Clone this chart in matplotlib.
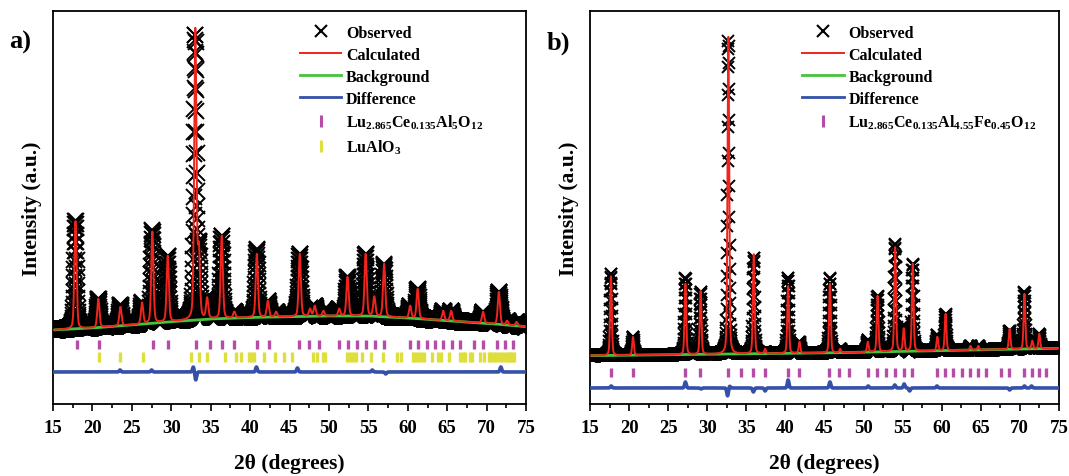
import numpy as np
import matplotlib.pyplot as plt
from matplotlib.lines import Line2D

plt.rcParams['font.family'] = 'Liberation Serif'
plt.rcParams['font.weight'] = 'bold'
plt.rcParams['mathtext.fontset'] = 'custom'
plt.rcParams['mathtext.rm'] = 'Liberation Serif:bold'
plt.rcParams['mathtext.it'] = 'Liberation Serif:bold'
plt.rcParams['mathtext.bf'] = 'Liberation Serif:bold'

# ---- panel a: Lu2.865Ce0.135Al5O12 + LuAlO3 ----
a_peak_pos = [17.85, 20.75, 23.55, 26.3, 27.6, 29.55, 33.05, 33.5, 34.55, 36.4, 38.0,
              40.85, 42.25, 43.3, 46.3, 47.6, 48.2, 49.3, 51.3, 52.35, 54.65, 55.75,
              57.0, 60.3, 61.25, 64.5, 65.5, 69.55, 71.55, 72.6, 73.8]
a_peak_top = [183, 105, 97, 101, 172, 148, 374, 150, 105, 168, 92,
              150, 103, 92, 150, 95, 98, 93, 95, 127, 150, 107,
              140, 98, 115, 93, 93, 92, 112, 83, 82]
a_bg_x = [15, 20, 25, 30, 35, 40, 45, 50, 55, 60, 65, 70, 75]
a_bg_y = [74, 76, 79, 82.3, 85, 86.5, 87.3, 88, 88, 86, 83.3, 80.7, 77.3]
a_diff_pos = [23.5, 27.5, 32.8, 33.1, 40.8, 46.0, 55.5, 57.2, 71.8]
a_diff_amp = [2, 2, 5, -8, 5, 4, 2, -2, 5]
a_hkl_garnet = [18.02, 20.77, 27.65, 29.61, 33.18, 34.87, 36.49, 37.97, 40.86, 42.35,
                46.25, 47.52, 48.80, 51.30, 52.40, 53.58, 54.75, 55.80, 56.95, 60.26,
                61.32, 62.39, 63.45, 64.52, 65.55, 66.60, 68.40, 69.50, 71.30, 72.35, 73.40]
a_hkl_lualo3 = [20.77, 23.54, 26.38, 32.45, 33.51, 34.58, 36.82, 38.18, 38.82, 39.88,
                40.10, 40.52, 41.79, 43.15, 44.34, 45.32, 48.03, 48.46, 49.23, 49.56,
                52.28, 52.62, 53.05, 53.38, 54.24, 55.38, 56.87, 58.57, 59.20, 60.61,
                60.90, 61.24, 61.62, 62.05, 63.03, 63.88, 64.21, 65.23, 66.63, 66.97,
                67.27, 67.83, 68.12, 69.10, 69.69, 70.25, 70.54, 70.88, 71.22, 71.52,
                71.94, 72.37, 72.67, 72.92, 73.22, 73.50]

# ---- panel b: Lu2.865Ce0.135Al4.55Fe0.45O12 ----
b_peak_pos = [17.67, 20.5, 27.2, 29.15, 32.7, 35.95, 37.4, 40.35, 41.8, 45.7, 47.0,
              50.55, 51.8, 54.05, 55.15, 56.3, 59.45, 60.5, 63.7, 64.7, 67.6, 68.7,
              70.6, 71.6, 72.5]
b_peak_top = [128, 67, 120, 113, 367, 150, 55, 118, 62, 120, 55,
              62, 108, 157, 75, 140, 67, 90, 58, 58, 55, 75,
              110, 63, 70]
b_bg_x = [15, 45, 75]
b_bg_y = [48.3, 51, 55.7]
b_diff_pos = [17.7, 27.2, 29.2, 32.6, 32.85, 35.9, 37.4, 40.35, 45.7, 50.6, 54.0,
              55.2, 55.9, 59.4, 68.7, 70.6, 71.5]
b_diff_amp = [2, 6, -1, -8, 2, -4, -3, 8, 6, 2, 3, 4, -3, 2, -2, 2, 2]
b_hkl_garnet = [17.67, 20.50, 27.17, 29.11, 32.67, 34.28, 35.89, 37.37, 40.30, 41.70,
                45.64, 46.91, 48.14, 50.51, 51.74, 52.92, 53.99, 55.13, 56.23, 59.40,
                60.47, 61.49, 62.58, 63.65, 64.67, 65.63, 67.54, 68.61, 70.51, 71.57,
                72.42, 73.39]


def profile(x, pos, top, fwhm, bgx, bgy):
    y = np.interp(x, bgx, bgy)
    for p, t in zip(pos, top):
        amp = t - np.interp(p, bgx, bgy)
        g = np.exp(-4 * np.log(2) * ((x - p) / fwhm) ** 2)
        l = 1 / (1 + 4 * ((x - p) / fwhm) ** 2)
        y = y + amp * (0.7 * g + 0.3 * l)
    return y


def bumps(x, pos, amp, w=0.25):
    d = np.zeros_like(x)
    for p, a in zip(pos, amp):
        d += a * np.exp(-4 * np.log(2) * ((x - p) / w) ** 2)
    return d


tt = np.arange(15, 75.001, 0.02)

fig = plt.figure(figsize=(10.69, 4.77), dpi=100)
ax1 = fig.add_axes([0.0496, 0.151, 0.4425, 0.824])
ax2 = fig.add_axes([0.552, 0.151, 0.4385, 0.824])

c_red = '#f0241c'
c_green = '#46c23c'
c_blue = '#3450a8'
c_mag = '#b44ca8'
c_yel = '#dede3c'

panels = [
    (ax1, a_peak_pos, a_peak_top, 0.33, a_bg_x, a_bg_y, a_diff_pos, a_diff_amp, 32, 11),
    (ax2, b_peak_pos, b_peak_top, 0.25, b_bg_x, b_bg_y, b_diff_pos, b_diff_amp, 16, 8.5),
]

for ax, pos, top, w, bgx, bgy, dpos, damp, dbase, ms in panels:
    calc = profile(tt, pos, top, w, bgx, bgy)
    d = bumps(tt, dpos, damp)
    obs = calc + d
    bg = np.interp(tt, bgx, bgy)
    ax.plot(tt, obs, ls='none', marker='x', ms=ms, mew=1.4, color='black', zorder=1)
    ax.plot(tt, bg, color=c_green, lw=2, zorder=2)
    ax.plot(tt, calc, color=c_red, lw=1.4, zorder=3)
    ax.plot(tt, dbase + d, color=c_blue, lw=2.6, zorder=3)

ax1.vlines(a_hkl_garnet, 55, 64, color=c_mag, lw=2.4)
ax1.vlines(a_hkl_lualo3, 42, 52, color=c_yel, lw=2.4)
ax2.vlines(b_hkl_garnet, 27, 36, color=c_mag, lw=2.4)

lab_a = r'Lu$_{2.865}$Ce$_{0.135}$Al$_{5}$O$_{12}$'
lab_b = r'Lu$_{2.865}$Ce$_{0.135}$Al$_{4.55}$Fe$_{0.45}$O$_{12}$'
base_handles = [
    Line2D([], [], ls='none', marker='x', ms=8, mew=1.5, color='black'),
    Line2D([], [], color=c_red, lw=1.4),
    Line2D([], [], color=c_green, lw=2),
    Line2D([], [], color=c_blue, lw=2),
    Line2D([], [], ls='none', marker='|', ms=8, mew=2.2, color=c_mag),
]
base_labels = ['Observed', 'Calculated', 'Background', 'Difference']

ax1.legend(base_handles + [Line2D([], [], ls='none', marker='|', ms=8, mew=2.2, color=c_yel)],
           base_labels + [lab_a, r'LuAlO$_{3}$'],
           loc='upper left', bbox_to_anchor=(0.505, 0.985), frameon=False,
           fontsize=11.5, handlelength=2.6, handletextpad=0.3, labelspacing=0.38,
           borderpad=0)
ax2.legend(base_handles, base_labels + [lab_b],
           loc='upper left', bbox_to_anchor=(0.435, 0.985), frameon=False,
           fontsize=11.5, handlelength=2.6, handletextpad=0.3, labelspacing=0.38,
           borderpad=0)

for ax in [ax1, ax2]:
    ax.set_xlim(15, 75)
    ax.set_ylim(0, 393)
    ax.set_xticks(np.arange(15, 76, 5))
    ax.set_xticks(np.arange(17.5, 75, 5), minor=True)
    ax.set_yticks([])
    ax.tick_params(axis='x', which='major', direction='out', length=5, width=1.2,
                   labelsize=13.5, pad=6)
    ax.tick_params(axis='x', which='minor', direction='out', length=3, width=1.2)
    for s in ax.spines.values():
        s.set_linewidth(1.3)
    ax.set_xlabel(r'2θ (degrees)', fontsize=15.5, fontweight='bold', labelpad=12)
    ax.set_ylabel('Intensity (a.u.)', fontsize=15.5, fontweight='bold', labelpad=8)

fig.text(0.009, 0.91, 'a)', fontsize=19, fontweight='bold', va='center')
fig.text(0.511, 0.91, 'b)', fontsize=19, fontweight='bold', va='center')

fig.savefig('out.png', dpi=100)
